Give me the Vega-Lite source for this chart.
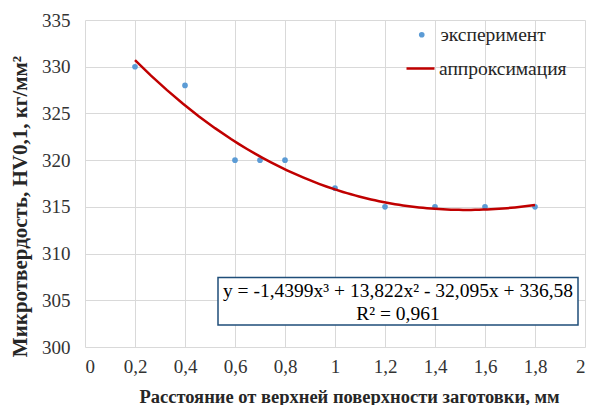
{
  "$schema": "https://vega.github.io/schema/vega-lite/v6.json",
  "width": 500,
  "height": 327,
  "autosize": {"type": "none"},
  "padding": {"left": 85, "top": 20, "right": 6, "bottom": 58},
  "background": "white",
  "config": {
    "view": {"stroke": null},
    "font": "Liberation Serif",
    "axis": {"gridColor": "#d9d9d9", "gridWidth": 1, "domain": false, "ticks": false,
             "labelFont": "Liberation Serif", "labelFontSize": 19, "labelColor": "#333333",
             "titleFont": "Liberation Serif", "titleFontWeight": "bold", "titleColor": "#262626"}
  },
  "data": {"values": [
    {"x": 0.2, "y": 330},
    {"x": 0.4, "y": 328},
    {"x": 0.6, "y": 320},
    {"x": 0.7, "y": 320},
    {"x": 0.8, "y": 320},
    {"x": 1.0, "y": 317},
    {"x": 1.2, "y": 315},
    {"x": 1.4, "y": 315},
    {"x": 1.6, "y": 315},
    {"x": 1.8, "y": 315}
  ]},
  "layer": [
    {
      "mark": {"type": "point", "filled": true, "size": 32, "opacity": 1},
      "encoding": {
        "x": {"field": "x", "type": "quantitative",
              "scale": {"domain": [0, 2], "nice": false},
              "axis": {"values": [0, 0.2, 0.4, 0.6, 0.8, 1, 1.2, 1.4, 1.6, 1.8, 2],
                       "labelExpr": "replace(format(datum.value, '~g'), '.', ',')",
                       "labelPadding": 10, "title": "Расстояние от верхней поверхности заготовки, мм",
                       "titleFontSize": 18.5, "titleX": 264, "titleY": 55, "titleBaseline": "alphabetic", "titleAlign": "center"}},
        "y": {"field": "y", "type": "quantitative",
              "scale": {"domain": [300, 335], "nice": false, "zero": false},
              "axis": {"values": [300, 305, 310, 315, 320, 325, 330, 335],
                       "labelPadding": 15, "title": "Микротвердость, HV0,1, кг/мм²",
                       "titleFontSize": 21, "titleX": -65, "titleY": 186, "titleBaseline": "middle", "titleAlign": "center", "titleAngle": -90}},
        "color": {"datum": "эксперимент", "type": "nominal",
                  "scale": {"range": ["#5b9bd5"]},
                  "legend": {"title": null, "orient": "none", "legendX": 327, "legendY": 5,
                             "symbolType": "circle", "symbolSize": 32, "labelFontSize": 19.5,
                             "labelFont": "Liberation Serif", "labelColor": "#262626",
                             "labelOffset": 9, "padding": 0}}
      }
    },
    {
      "transform": [{"regression": "y", "on": "x", "method": "poly", "order": 3}],
      "mark": {"type": "line", "strokeWidth": 2.5},
      "encoding": {
        "x": {"field": "x", "type": "quantitative"},
        "y": {"field": "y", "type": "quantitative"},
        "stroke": {"datum": "аппроксимация", "type": "nominal",
                   "scale": {"range": ["#c00000"]},
                   "legend": {"title": null, "orient": "none", "legendX": 320, "legendY": 33,
                              "symbolType": "stroke", "symbolSize": 784, "symbolStrokeWidth": 2.5,
                              "labelFontSize": 19.5, "labelFont": "Liberation Serif",
                              "labelColor": "#262626", "labelOffset": 3, "padding": 0}}
      }
    },
    {
      "data": {"values": [{"label": "equation"}]},
      "mark": {"type": "rect", "fill": "white", "stroke": "#1f4e79", "strokeWidth": 1.5},
      "encoding": {
        "x": {"datum": 0.532, "type": "quantitative"},
        "x2": {"datum": 1.972},
        "y": {"datum": 307.45, "type": "quantitative"},
        "y2": {"datum": 302.35}
      }
    },
    {
      "data": {"values": [{"line": "y = -1,4399x³ + 13,822x² - 32,095x + 336,58"}]},
      "mark": {"type": "text", "fontSize": 19.5, "font": "Liberation Serif", "color": "#000000", "baseline": "middle", "align": "center"},
      "encoding": {
        "x": {"datum": 1.252, "type": "quantitative"},
        "y": {"datum": 306.0, "type": "quantitative"},
        "text": {"field": "line"}
      }
    },
    {
      "data": {"values": [{"line": "R² = 0,961"}]},
      "mark": {"type": "text", "fontSize": 19.5, "font": "Liberation Serif", "color": "#000000", "baseline": "middle", "align": "center"},
      "encoding": {
        "x": {"datum": 1.252, "type": "quantitative"},
        "y": {"datum": 303.55, "type": "quantitative"},
        "text": {"field": "line"}
      }
    }
  ]
}
